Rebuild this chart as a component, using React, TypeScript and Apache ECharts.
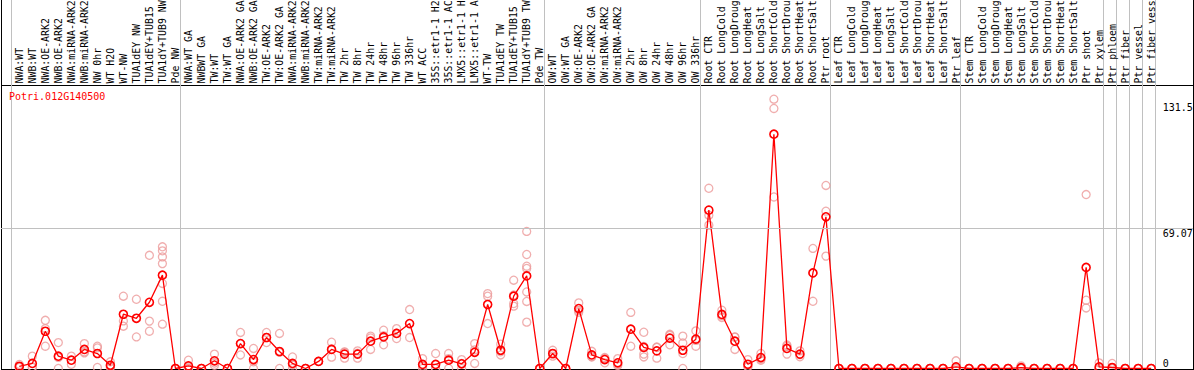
import React, { useEffect, useRef } from "react";
import * as echarts from "echarts";

const title = "Potri.012G140500";

// category labels as they appear in the chart (shown up to 14 characters)
const categories = [
  "NWA:WT", "NWB:WT", "NWA:OE-ARK2", "NWB:OE-ARK2", "NWA:miRNA-ARK2", "NWB:miRNA-ARK2",
  "NW 0hr", "WT H2O", "WT-NW", "TUA1dEY NW", "TUA1dEY+TUB15", "TUA1dY+TUB9 NW", "Pde NW",
  "NWA:WT GA", "NWBWT GA", "TW:WT", "TW:WT GA", "NWA:OE-ARK2 GA", "NWB:OE-ARK2 GA",
  "TW:OE-ARK2", "TW:OE-ARK2 GA", "NWA:miRNA-ARK2", "NWB:miRNA-ARK2", "TW:miRNA-ARK2",
  "TW:miRNA-ARK2", "TW 2hr", "TW 8hr", "TW 24hr", "TW 48hr", "TW 96hr", "TW 336hr",
  "WT ACC", "35S::etr1-1 H2", "35S::etr1-1 AC", "LMX5::etr1-1 H", "LMX5::etr1-1 A",
  "WT-TW", "TUA1dEY TW", "TUA1dEY+TUB15", "TUA1dY+TUB9 TW", "Pde TW",
  "OW:WT", "OW:WT GA", "OW:OE-ARK2", "OW:OE-ARK2 GA", "OW:miRNA-ARK2", "OW:miRNA-ARK2",
  "OW 2hr", "OW 8hr", "OW 24hr", "OW 48hr", "OW 96hr", "OW 336hr",
  "Root CTR", "Root LongCold", "Root LongDroug", "Root LongHeat", "Root LongSalt",
  "Root ShortCold", "Root ShortDrou", "Root ShortHeat", "Root ShortSalt", "Ptr root",
  "Leaf CTR", "Leaf LongCold", "Leaf LongDroug", "Leaf LongHeat", "Leaf LongSalt",
  "Leaf ShortCold", "Leaf ShortDrou", "Leaf ShortHeat", "Leaf ShortSalt", "Ptr leaf",
  "Stem CTR", "Stem LongCold", "Stem LongDroug", "Stem LongHeat", "Stem LongSalt",
  "Stem ShortCold", "Stem ShortDrou", "Stem ShortHeat", "Stem ShortSalt", "Ptr shoot",
  "Ptr xylem", "Ptr phloem", "Ptr fiber", "Ptr vessel", "Ptr fiber vess",
];

const means = [
  1.1, 2.5, 18.4, 6.1, 4.1, 9.4, 7.4, 1.6, 26.8, 24.8, 32.7, 46.1, 0,
  1.3, 0, 3.8, 0, 12.3, 4.4, 15.3, 8.4, 2.5, 0, 3.5, 9.4, 7.1, 7.1, 13.5, 15.6, 17.3, 22.2,
  2.0, 2.0, 4.1, 2.3, 8.0, 31.6, 9.0, 35.7, 45.7, 0,
  7.4, 0, 29.6, 6.7, 4.4, 2.8, 19.4, 10.4, 8.7, 15.0, 9.0, 14.5,
  78.2, 26.7, 13.5, 2.1, 5.4, 115.7, 9.9, 7.1, 47.2, 74.9,
  0, 0, 0, 0, 0, 0, 0, 0, 0, 0.8,
  0, 0, 0, 0, 0.4, 0, 0, 0, 0, 49.9,
  0.8, 0.5, 0, 0, 0,
];

const replicates: number[][] = [
  [2.0, 0.5, 0.8], [6.1, 0.8, 0.5], [23.8, 19.7, 11.0], [12.8, 5.5, 0], [6.1, 2.1],
  [12.3, 8.2, 7.7], [11.0, 10.2, 0.5], [3.3, 1.0, 0.5], [35.7, 23.5, 20.9], [34.2, 15.6],
  [55.9, 23.4, 18.4], [60.1, 58.1, 55.1, 51.8, 42.0, 33.2, 21.9], [0, 0],
  [4.1, 0, 0], [0, 0], [7.1, 1.6, 2.7], [0, 0], [17.8, 6.7, 12.3], [9.9, 0, 3.3],
  [17.8, 12.8, 15.3], [17.3, 0, 8.0], [5.7, 0, 1.8], [0, 0], [3.5, 3.5],
  [13.0, 5.6, 9.6], [8.0, 5.1, 8.2], [8.7, 5.1, 7.5], [16.0, 9.4, 15.1],
  [18.9, 11.7, 16.2], [19.7, 14.8, 17.4], [29.1, 15.3],
  [4.9, 0, 1.1], [7.4, 0, 0], [7.4, 0, 4.9], [4.4, 2.5, 0], [12.3, 2.5, 9.2],
  [37.0, 35.7, 22.2], [12.0, 6.7, 8.3], [43.6, 32.1, 30.8, 36.3],
  [67.7, 56.3, 50.5, 49.4, 37.8, 33.1, 22.9], [0, 0],
  [9.0, 6.1, 7.1], [0, 0], [32.4, 27.8, 28.6], [8.5, 5.7, 5.9], [5.4, 2.8, 5.0],
  [4.9, 1.5, 2.0], [27.7, 11.0], [17.9, 7.1, 5.7, 10.9], [10.4, 5.1, 10.6],
  [16.9, 11.7, 16.4], [16.0, 12.6, 0, 7.4], [18.6, 11.0, 13.9],
  [89.0, 75.7, 70.8], [28.8, 25.2, 26.1], [15.6, 9.4, 15.5], [4.4, 0.8, 1.1],
  [7.4, 4.1, 4.7], [133.0, 128.4, 84.7], [11.0, 7.1, 11.6], [8.7, 5.8, 6.8],
  [59.3, 47.2, 33.2], [90.4, 77.7, 55.5],
  [0, 0], [0, 0], [0, 0], [0, 0], [0, 0], [0, 0], [0, 0], [0, 0], [0, 0], [3.8, 0, 0],
  [0, 0], [0, 0], [0, 0], [0, 0], [1.3, 0, 0], [0, 0], [0, 0], [0, 0], [0, 0],
  [85.9, 33.7, 29.9],
  [2.8, 0, 0], [2.5, 0, 0], [0, 0], [0, 0], [0, 0],
];

const yLabelsTop = [69.07, 131.5];
const yLabelsBottom = [0];
const gridLineValue = 69.07;
const groupStarts = [0, 13, 41, 53, 63, 73, 84, 85, 86, 87, 88];

export default function App() {
  const ref = useRef<HTMLDivElement>(null);
  useEffect(() => {
    document.body.style.margin = "0";
    const chart = echarts.init(ref.current!, null, { renderer: "svg" });
    const font = '"DejaVu Sans Mono", monospace';
    const sepSet = new Set(groupStarts);
    const repData: number[][] = [];
    replicates.forEach((arr, i) => arr.forEach((v) => repData.push([i, v])));
    const yMax = 140;
    const hiddenAxis = {
      axisLine: { show: false },
      axisTick: { show: false },
      splitLine: { show: false },
    };
    const gridBase = { show: false, outerBoundsMode: "none", containLabel: false };
    chart.setOption({
      animation: false,
      title: {
        text: title,
        left: 9,
        top: 91,
        padding: 0,
        textStyle: { fontFamily: font, fontSize: 10, fontWeight: "normal", color: "#ff0000" },
      },
      grid: [
        { ...gridBase, left: 12.8, right: 36.3, top: 85, height: 283.5 },
        { ...gridBase, left: 10.8, right: 38.3, top: 0, height: 369 },
        { ...gridBase, left: 1, right: 1, top: 85, height: 283.5 },
        { ...gridBase, left: 12.8, right: 36.3, top: 85, height: 283.5 },
      ],
      xAxis: [
        {
          type: "category", gridIndex: 0, data: categories, position: "top", boundaryGap: true,
          ...hiddenAxis,
          axisLabel: { interval: 0, rotate: 90, margin: 1.5, fontFamily: font, fontSize: 9.9, color: "#000" },
        },
        {
          type: "category", gridIndex: 1, data: categories, boundaryGap: true,
          axisLine: { show: false }, axisTick: { show: false }, axisLabel: { show: false },
          splitLine: {
            show: true,
            interval: (i: number) => sepSet.has(i),
            lineStyle: { color: "#c0c0c0", width: 1 },
          },
        },
        { type: "value", gridIndex: 2, min: 0, max: 1, show: false },
        { type: "value", gridIndex: 3, min: 0, max: 1, show: false },
      ],
      yAxis: [
        {
          type: "value", gridIndex: 0, min: 0, max: yMax, position: "right", ...hiddenAxis,
          axisLabel: {
            customValues: yLabelsTop, verticalAlign: "top", margin: 5,
            fontFamily: font, fontSize: 10, color: "#000",
          },
        },
        { type: "value", gridIndex: 1, show: false },
        { type: "value", gridIndex: 2, min: 0, max: yMax, show: false },
        {
          type: "value", gridIndex: 3, min: 0, max: yMax, position: "right", ...hiddenAxis,
          axisLabel: {
            customValues: yLabelsBottom, verticalAlign: "bottom", margin: 5,
            fontFamily: font, fontSize: 10, color: "#000",
          },
        },
      ],
      graphic: [
        { type: "line", shape: { x1: 1.5, y1: 0, x2: 1.5, y2: 370 }, style: { stroke: "#000", lineWidth: 1 } },
        { type: "line", shape: { x1: 1193.5, y1: 0, x2: 1193.5, y2: 370 }, style: { stroke: "#000", lineWidth: 1 } },
        { type: "line", shape: { x1: 1, y1: 85.5, x2: 1194, y2: 85.5 }, style: { stroke: "#000", lineWidth: 1 } },
        { type: "line", shape: { x1: 1, y1: 369.5, x2: 1194, y2: 369.5 }, style: { stroke: "#000", lineWidth: 1 } },
      ],
      series: [
        {
          type: "line", xAxisIndex: 2, yAxisIndex: 2, data: [], silent: true,
          markLine: {
            silent: true, symbol: ["none", "none"], label: { show: false },
            lineStyle: { color: "#c0c0c0", type: "solid", width: 1 },
            data: [{ yAxis: gridLineValue }],
          },
        },
        {
          type: "scatter", xAxisIndex: 0, yAxisIndex: 0, data: repData,
          symbol: "circle", symbolSize: 8,
          itemStyle: { color: "rgba(0,0,0,0)", borderColor: "#ec9a9a", borderWidth: 1.3 },
        },
        {
          type: "line", xAxisIndex: 0, yAxisIndex: 0, data: means,
          symbol: "circle", symbolSize: 8, showAllSymbol: true,
          lineStyle: { color: "#ff0000", width: 1.3 },
          itemStyle: { color: "rgba(0,0,0,0)", borderColor: "#ff0000", borderWidth: 1.6 },
        },
      ],
    });
    return () => chart.dispose();
  }, []);
  return <div ref={ref} style={{ width: 1194, height: 370 }} />;
}
